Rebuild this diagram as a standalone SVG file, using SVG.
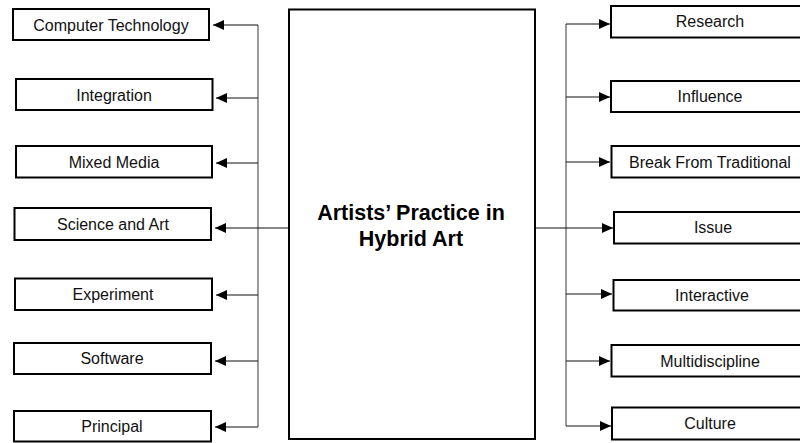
<svg xmlns="http://www.w3.org/2000/svg" width="800" height="443" viewBox="0 0 800 443">
<defs>
<style>
.box{fill:#fff;stroke:#000;stroke-width:2}
.lbl{font-family:"Liberation Sans",Arial,sans-serif;font-size:16px;fill:#111;text-anchor:middle}
.title{font-family:"Liberation Sans",Arial,sans-serif;font-size:21.5px;font-weight:bold;fill:#000;text-anchor:middle}
.trunk{stroke:#666;stroke-width:1.3;fill:none}
.br{stroke:#111;stroke-width:1.2;fill:none;marker-end:url(#ah)}
</style>
<marker id="ah" markerUnits="userSpaceOnUse" markerWidth="11" markerHeight="11" viewBox="0 0 10 10" refX="10" refY="5" orient="auto">
<path d="M0,0.5 L10,5 L0,9.5 Z" fill="#000"/>
</marker>
</defs>
<rect width="800" height="443" fill="#fff"/>
<g id="connectors">
<line class="trunk" x1="258" y1="25" x2="258" y2="427"/>
<line class="trunk" x1="566" y1="24" x2="566" y2="426"/>
<line class="br" x1="258" y1="25" x2="213" y2="25"/>
<line class="br" x1="258" y1="98" x2="216" y2="98"/>
<line class="br" x1="258" y1="163" x2="216" y2="163"/>
<line class="br" x1="289" y1="228" x2="215" y2="228"/>
<line class="br" x1="258" y1="295" x2="216" y2="295"/>
<line class="br" x1="258" y1="361" x2="215" y2="361"/>
<line class="br" x1="258" y1="427" x2="215" y2="427"/>
<line class="br" x1="566" y1="24" x2="610" y2="24"/>
<line class="br" x1="566" y1="97" x2="610" y2="97"/>
<line class="br" x1="566" y1="162" x2="610" y2="162"/>
<line class="br" x1="535" y1="228" x2="613" y2="228"/>
<line class="br" x1="566" y1="294" x2="612" y2="294"/>
<line class="br" x1="566" y1="361" x2="610" y2="361"/>
<line class="br" x1="566" y1="426" x2="611" y2="426"/>
</g>
<g id="center">
<rect class="box" x="289" y="9.5" width="246" height="429.5"/>
<text class="title" x="411" y="220">Artists’ Practice in</text>
<text class="title" x="411" y="246">Hybrid Art</text>
</g>
<g id="computer-technology"><rect class="box" x="13" y="9" width="196" height="31"/><text class="lbl" x="111" y="30.5">Computer Technology</text></g>
<g id="integration"><rect class="box" x="16" y="79" width="196.5" height="31"/><text class="lbl" x="114" y="100.5">Integration</text></g>
<g id="mixed-media"><rect class="box" x="16" y="146" width="196" height="31.5"/><text class="lbl" x="114" y="167.5">Mixed Media</text></g>
<g id="science-and-art"><rect class="box" x="14.5" y="208" width="196.5" height="32"/><text class="lbl" x="113" y="229.5">Science and Art</text></g>
<g id="experiment"><rect class="box" x="15" y="278.5" width="197" height="31.5"/><text class="lbl" x="113" y="299.5">Experiment</text></g>
<g id="software"><rect class="box" x="14" y="343" width="197" height="31"/><text class="lbl" x="112" y="364">Software</text></g>
<g id="principal"><rect class="box" x="14" y="411" width="197" height="30.5"/><text class="lbl" x="112" y="432">Principal</text></g>
<g id="research"><rect class="box" x="611" y="6" width="200" height="31.5"/><text class="lbl" x="710" y="27">Research</text></g>
<g id="influence"><rect class="box" x="611" y="81" width="200" height="31"/><text class="lbl" x="710" y="102">Influence</text></g>
<g id="break-from-traditional"><rect class="box" x="611.5" y="146" width="200" height="31.5"/><text class="lbl" x="710" y="167.5">Break From Traditional</text></g>
<g id="issue"><rect class="box" x="614" y="212" width="200" height="31.5"/><text class="lbl" x="713" y="233">Issue</text></g>
<g id="interactive"><rect class="box" x="613.5" y="280" width="200" height="30.5"/><text class="lbl" x="712" y="301">Interactive</text></g>
<g id="multidiscipline"><rect class="box" x="611.5" y="345" width="200" height="31.5"/><text class="lbl" x="710" y="366.5">Multidiscipline</text></g>
<g id="culture"><rect class="box" x="612" y="407.5" width="200" height="32"/><text class="lbl" x="710" y="429">Culture</text></g>
</svg>
